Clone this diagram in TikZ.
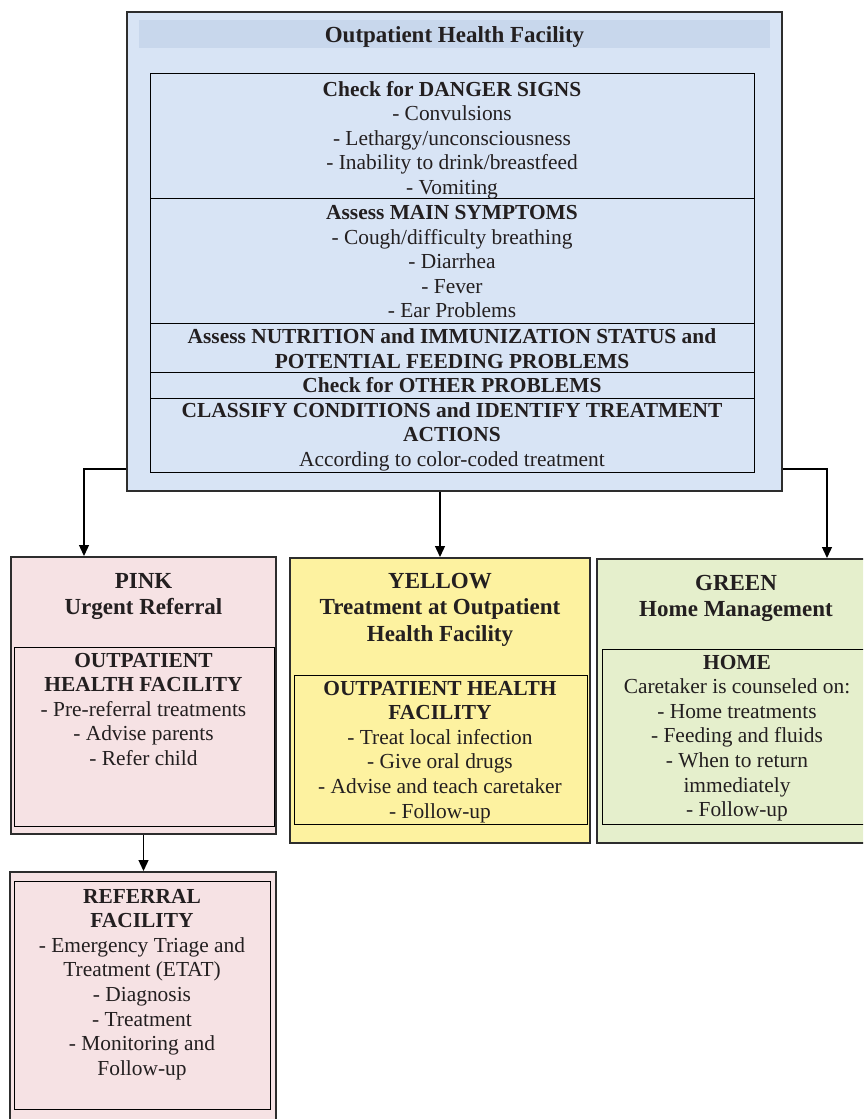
\documentclass[tikz,border=0pt]{standalone}
\usepackage{fontspec}
\setmainfont{Liberation Serif}
\usetikzlibrary{arrows.meta,calc}

\definecolor{ink}{RGB}{35,31,32}
\definecolor{framegray}{RGB}{45,45,45}
\definecolor{bluefill}{RGB}{216,228,245}
\definecolor{blueband}{RGB}{200,215,236}
\definecolor{pinkfill}{RGB}{246,226,228}
\definecolor{yellowfill}{RGB}{253,242,160}
\definecolor{greenfill}{RGB}{229,239,204}

\newcommand\txtfont{\fontsize{21.4}{24.6}\selectfont}
\newcommand\hdfont{\fontsize{23}{26.6}\selectfont\bfseries}
% line pitch of body and heading text (the base anchor of a
% multi-line node sits on its last line)
\def\lp{24.6}
\def\hp{26.6}

\tikzset{
  outerbox/.style={rectangle, draw=framegray, line width=2pt, inner sep=0pt},
  innerbox/.style={rectangle, draw=black, line width=1pt, inner sep=0pt},
  lbl/.style={anchor=base, align=center, inner sep=0pt, font=\txtfont, text=ink},
  head/.style={lbl, font=\hdfont},
  arr/.style={draw=black, line width=1.3pt, -{Triangle[length=11pt,width=10pt]}}
}

\begin{document}
\begin{tikzpicture}[x=1pt,y=-1pt]
\useasboundingbox (0,0) rectangle (863,1119);
\clip (0,0) rectangle (863,1119);

% ---- outpatient health facility ----
\node[outerbox, fill=bluefill, minimum width=655pt, minimum height=479pt] (ohf) at (454.5,251.5) {};
\node[rectangle, fill=blueband, inner sep=0pt, minimum width=631pt, minimum height=28pt] (band) at (454.5,34) {};
\node[head] (title) at (454.5,42.5) {Outpatient Health Facility};

\node[innerbox, minimum width=604pt, minimum height=125pt] (s1) at (452,135.5) {};
\node[innerbox, minimum width=604pt, minimum height=125pt] (s2) at (452,260.5) {};
\node[innerbox, minimum width=604pt, minimum height=49pt] (s3) at (452,347.5) {};
\node[innerbox, minimum width=604pt, minimum height=26pt] (s4) at (452,385) {};
\node[innerbox, minimum width=604pt, minimum height=74pt] (s5) at (452,435) {};

\node[lbl] (t1) at (452,{96+4*\lp}) {\textbf{Check for DANGER SIGNS}\\- Convulsions\\- Lethargy/unconsciousness\\- Inability to drink/breastfeed\\- Vomiting};
\node[lbl] (t2) at (452,{219.5+4*\lp}) {\textbf{Assess MAIN SYMPTOMS}\\- Cough/difficulty breathing\\- Diarrhea\\- Fever\\- Ear Problems};
\node[lbl] (t3) at (452,{343.5+\lp}) {\textbf{Assess NUTRITION and IMMUNIZATION STATUS and}\\\textbf{POTENTIAL FEEDING PROBLEMS}};
\node[lbl] (t4) at (452,392) {\textbf{Check for OTHER PROBLEMS}};
\node[lbl] (t5) at (452,{417+2*\lp}) {\textbf{CLASSIFY CONDITIONS and IDENTIFY TREATMENT}\\\textbf{ACTIONS}\\According to color-coded treatment};

% ---- pink: urgent referral ----
\node[outerbox, fill=pinkfill, minimum width=265pt, minimum height=277pt] (pink) at (143.5,695.5) {};
\node[innerbox, minimum width=260pt, minimum height=179pt] (pinkin) at (144,736.5) {};
\node[head] (pinkhd) at (143.5,{588+\hp}) {PINK\\Urgent Referral};
\node[lbl] (pinktx) at (143.5,{667+4*\lp}) {\textbf{OUTPATIENT}\\\textbf{HEALTH FACILITY}\\- Pre-referral treatments\\- Advise parents\\- Refer child};

% ---- yellow: outpatient treatment ----
\node[outerbox, fill=yellowfill, minimum width=300pt, minimum height=285pt] (yellow) at (440,700.5) {};
\node[innerbox, minimum width=293pt, minimum height=149pt] (yellowin) at (440.5,749.5) {};
\node[head] (yellowhd) at (440,{588+2*\hp}) {YELLOW\\Treatment at Outpatient\\Health Facility};
\node[lbl] (yellowtx) at (440,{695+5*\lp}) {\textbf{OUTPATIENT HEALTH}\\\textbf{FACILITY}\\- Treat local infection\\- Give oral drugs\\- Advise and teach caretaker\\- Follow-up};

% ---- green: home management ----
\node[outerbox, fill=greenfill, minimum width=271pt, minimum height=284pt] (green) at (732.5,701) {};
\node[innerbox, minimum width=264pt, minimum height=175pt] (greenin) at (734,736.5) {};
\node[head] (greenhd) at (736,{590+\hp}) {GREEN\\Home Management};
\node[lbl] (greentx) at (737,{669+6*\lp}) {\textbf{HOME}\\Caretaker is counseled on:\\- Home treatments\\- Feeding and fluids\\- When to return\\immediately\\- Follow-up};

% ---- referral facility ----
\node[outerbox, fill=pinkfill, minimum width=266pt, minimum height=258pt] (ref) at (143,1001) {};
\node[innerbox, minimum width=256pt, minimum height=228pt] (refin) at (142,995) {};
\node[lbl] (reftx) at (142,{903+7*\lp}) {\textbf{REFERRAL}\\\textbf{FACILITY}\\- Emergency Triage and\\Treatment (ETAT)\\- Diagnosis\\- Treatment\\- Monitoring and\\Follow-up};

% ---- connectors ----
\draw[arr] ([yshift=23pt]ohf.south west) -| ([xshift=-59.5pt]pink.north);
\draw[arr] ([yshift=23pt]ohf.south east) -| ([xshift=94.5pt]green.north);
\draw[arr] (ohf.south -| yellow.north) -- (yellow.north);
\draw[arr] (pink.south) -- (pink.south |- ref.north);
\end{tikzpicture}
\end{document}
